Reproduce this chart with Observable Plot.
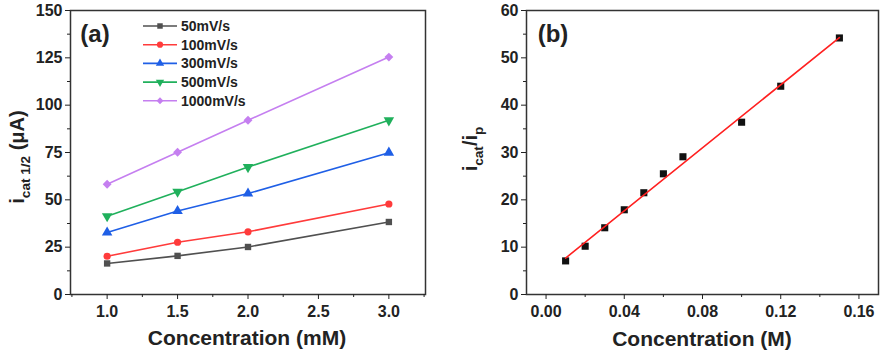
<!DOCTYPE html>
<html><head><meta charset="utf-8">
<script src="https://cdn.jsdelivr.net/npm/d3@7"></script>
<script src="https://cdn.jsdelivr.net/npm/@observablehq/plot@0.6"></script>
<style>
body{margin:0;background:#fff;}
#wrap{display:flex;width:884px;height:355px;}
svg{display:block;overflow:visible}
</style></head><body><div id="wrap"></div>
<script>
// ---- Panel (a) data ----
const concA = [1.0, 1.5, 2.0, 3.0];
const rateLabels = ["50mV/s", "100mV/s", "300mV/s", "500mV/s", "1000mV/s"];
const i50 = [16.4, 20.4, 25.1, 38.3];
const i100 = [20.2, 27.6, 33.1, 47.8];
const i300 = [32.7, 44.1, 53.3, 74.9];
const i500 = [41.3, 54.3, 67.3, 92.0];
const i1000 = [58.2, 75.1, 92.0, 125.4];
const seriesColors = ["#505050", "#ff3b3b", "#1f5fe6", "#20b05c", "#c57ff0"];
const yTicksA = [0, 25, 50, 75, 100, 125, 150];
const yMinorA = [12.5, 37.5, 62.5, 87.5, 112.5, 137.5];
const xTicksA = [1.0, 1.5, 2.0, 2.5, 3.0];
const xMinorA = [0.75, 1.25, 1.75, 2.25, 2.75, 3.25];

// ---- Panel (b) data ----
const concB = [0.01, 0.02, 0.03, 0.04, 0.05, 0.06, 0.07, 0.10, 0.12, 0.15];
const ratioB = [7.1, 10.2, 14.1, 17.9, 21.5, 25.5, 29.1, 36.4, 44.0, 54.2];
const yTicksB = [0, 10, 20, 30, 40, 50, 60];
const yMinorB = [5, 15, 25, 35, 45, 55];
const xTicksB = [0.00, 0.04, 0.08, 0.12, 0.16];
const xMinorB = [0.02, 0.06, 0.10, 0.14];

const FONT = "'Liberation Sans', Arial, sans-serif";
const INK = "#222";

const triDown = {
  draw(ctx, size) {
    const y = -Math.sqrt(size / (Math.sqrt(3) * 3));
    ctx.moveTo(0, -2 * y);
    ctx.lineTo(-Math.sqrt(3) * y, y);
    ctx.lineTo(Math.sqrt(3) * y, y);
    ctx.closePath();
  }
};
const seriesSymbols = ["square", "circle", "triangle", triDown, "diamond2"];
const symbolRadius = [3.6, 3.6, 3.9, 3.9, 4.0];
const seriesVals = [i50, i100, i300, i500, i1000];

const rowsA = seriesVals.map((vals, s) => concA.map((c, k) => ({conc: c, val: vals[k], s})));

const marksA = [];
rowsA.forEach((rows, s) => {
  marksA.push(Plot.line(rows, {x: "conc", y: "val", stroke: seriesColors[s], strokeWidth: 1.6}));
  marksA.push(Plot.dot(rows, {x: "conc", y: "val", fill: seriesColors[s], stroke: "none", symbol: seriesSymbols[s], r: symbolRadius[s]}));
});

const commonStyle = {fontFamily: FONT, fontSize: "16px", fontWeight: "bold", color: INK, background: "white", overflow: "visible"};

const plotA = Plot.plot({
  width: 442, height: 355,
  marginLeft: 70, marginRight: 17, marginTop: 10, marginBottom: 61,
  style: commonStyle,
  x: {domain: [0.74, 3.26]},
  y: {domain: [0, 150]},
  marks: [
    ...marksA,
    Plot.frame({stroke: "#333", strokeWidth: 1.5}),
    Plot.axisY({ticks: yTicksA, tickSize: 5, tickPadding: 3, label: null, tickFormat: d => String(d)}),
    Plot.axisY({ticks: yMinorA, tickSize: 3, text: null, label: null}),
    Plot.axisX({ticks: xTicksA, tickSize: 5, tickPadding: 6, label: null, tickFormat: d3.format(".1f")}),
    Plot.axisX({ticks: xMinorA.filter(d => d <= 3.26), tickSize: 3, text: null, label: null})
  ]
});

const rowsB = concB.map((c, k) => ({conc: c, val: ratioB[k]}));
const plotB = Plot.plot({
  width: 442, height: 355,
  marginLeft: 84, marginRight: 6, marginTop: 10, marginBottom: 61,
  style: commonStyle,
  x: {domain: [-0.01, 0.17]},
  y: {domain: [0, 60]},
  marks: [
    Plot.dot(rowsB, {x: "conc", y: "val", symbol: "square", fill: "#111", r: 4}),
    Plot.linearRegressionY(rowsB, {x: "conc", y: "val", stroke: "#ff2020", strokeWidth: 1.6, ci: 0}),
    Plot.frame({stroke: "#333", strokeWidth: 1.5}),
    Plot.axisY({ticks: yTicksB, tickSize: 5, tickPadding: 3, label: null, tickFormat: d => String(d)}),
    Plot.axisY({ticks: yMinorB, tickSize: 3, text: null, label: null}),
    Plot.axisX({ticks: xTicksB, tickSize: 5, tickPadding: 6, label: null, tickFormat: d3.format(".2f")}),
    Plot.axisX({ticks: xMinorB, tickSize: 3, text: null, label: null})
  ]
});

document.getElementById("wrap").append(plotA, plotB);

function addText(svg, x, y, size, parts, rotate, anchor) {
  const t = d3.select(svg).append("text")
    .attr("transform", `translate(${x},${y})` + (rotate ? " rotate(-90)" : ""))
    .attr("text-anchor", anchor || "middle")
    .attr("font-family", FONT).attr("font-weight", "bold")
    .attr("font-size", size).attr("fill", INK);
  parts.forEach(p => {
    const ts = t.append("tspan").text(p.t);
    if (p.sub) ts.attr("font-size", size * 0.68).attr("dy", size * 0.28);
    if (p.up) ts.attr("dy", -size * 0.28);
  });
  return t;
}

// Axis titles
addText(plotA, 247, 345, 21, [{t: "Concentration (mM)"}]);
addText(plotB, 260, 346, 21, [{t: "Concentration (M)"}]);
addText(plotA, 24, 157, 20, [{t: "i"}, {t: "cat 1/2", sub: true}, {t: " (μA)", up: true}], true);
addText(plotB, 35, 149, 20, [{t: "i"}, {t: "cat", sub: true}, {t: "/i", up: true}, {t: "p", sub: true}], true);

// Panel labels
addText(plotA, 95, 42, 24, [{t: "(a)"}]);
addText(plotB, 111, 42, 24, [{t: "(b)"}]);

// Legend for (a)
const symMap = {square: d3.symbolSquare, circle: d3.symbolCircle, triangle: d3.symbolTriangle, diamond2: d3.symbolDiamond2};
const lg = d3.select(plotA).append("g");
rateLabels.forEach((lab, s) => {
  const y = 26 + s * 18.7;
  lg.append("line").attr("x1", 143).attr("x2", 177).attr("y1", y).attr("y2", y)
    .attr("stroke", seriesColors[s]).attr("stroke-width", 1.6);
  const sym = typeof seriesSymbols[s] === "string" ? symMap[seriesSymbols[s]] : seriesSymbols[s];
  lg.append("path").attr("d", d3.symbol(sym, 30)()).attr("transform", `translate(160,${y})`).attr("fill", seriesColors[s]);
  lg.append("text").attr("x", 181).attr("y", y).attr("dy", "0.36em").attr("text-anchor", "start")
    .attr("font-family", FONT).attr("font-weight", "bold").attr("font-size", 14).attr("fill", INK).text(lab);
});
</script></body></html>
